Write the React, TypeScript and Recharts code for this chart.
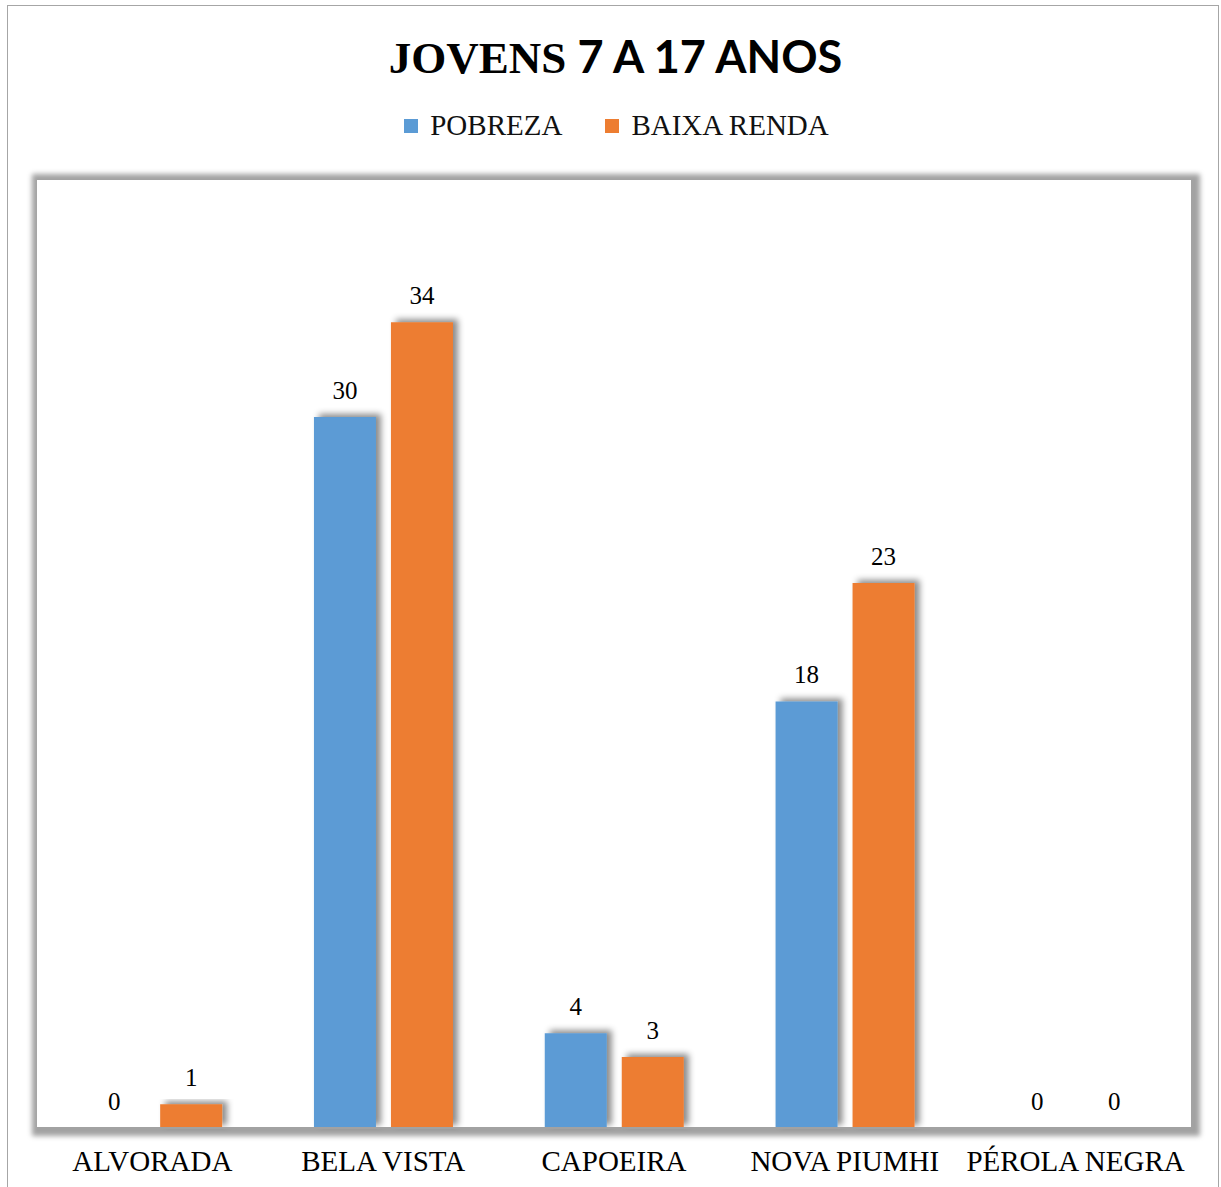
import { Bar, BarChart, LabelList, Rectangle, XAxis, YAxis } from "recharts";

const categories = ["ALVORADA", "BELA VISTA", "CAPOEIRA", "NOVA PIUMHI", "PÉROLA NEGRA"];
const pobreza = [0, 30, 4, 18, 0];
const baixaRenda = [1, 34, 3, 23, 0];

const series = [
  { key: "pobreza", name: "POBREZA", color: "#5B9BD5" },
  { key: "baixaRenda", name: "BAIXA RENDA", color: "#ED7D31" },
];

const data = categories.map((name, i) => ({
  name,
  pobreza: pobreza[i],
  baixaRenda: baixaRenda[i],
}));

const W = 1221;
const H = 1187;
const serif = '"Liberation Serif", "Times New Roman", serif';

// draws value above the bar, zero values included
function ValueLabel(props: any) {
  const { x, y, width, height, value } = props;
  if (value == null) return null;
  const top = Math.min(Number(y), Number(y) + Number(height || 0));
  const base = value === 0 ? top + Math.abs(Number(height || 0)) : top;
  return (
    <text
      x={Number(x) + Number(width) / 2}
      y={base - 18}
      textAnchor="middle"
      fill="#000"
      fontSize={25}
      fontFamily={serif}
    >
      {value}
    </text>
  );
}

// zero bars get a 1px min size so labels render, but draw nothing
function BarShape(props: any) {
  if (props.value === 0 || (Array.isArray(props.value) && props.value[1] === 0)) return <g />;
  return <Rectangle {...props} />;
}

export default function App() {
  return (
    <div
      style={{
        position: "absolute",
        left: 0,
        top: 0,
        width: W,
        height: H,
        background: "#fff",
        fontFamily: serif,
      }}
    >
      {/* outer chart border */}
      <div
        style={{
          position: "absolute",
          left: 7,
          top: 5,
          width: 1212,
          height: 1185,
          border: "1.5px solid #a6a6a6",
          boxSizing: "border-box",
        }}
      />
      {/* plot area frame with shadow */}
      <div
        style={{
          position: "absolute",
          left: 37,
          top: 180,
          width: 1154,
          height: 948,
          boxShadow: "2px 1px 5px 7px #a2a2a2",
          background: "#fff",
        }}
      />
      <div
        style={{
          position: "absolute",
          top: 28,
          left: 0,
          width: W,
          paddingLeft: 10,
          boxSizing: "border-box",
          textAlign: "center",
          fontSize: 45,
          fontWeight: 700,
          color: "#000",
          lineHeight: "56px",
        }}
      >
        <span style={{ fontFamily: serif }}>JOVENS </span>
        <span style={{ fontFamily: "Lato, sans-serif" }}>7 A 17 ANOS</span>
      </div>
      <div
        style={{
          position: "absolute",
          top: 109,
          left: 0,
          width: W,
          paddingLeft: 12,
          boxSizing: "border-box",
          display: "flex",
          justifyContent: "center",
          gap: 43,
          fontSize: 29,
          color: "#111",
        }}
      >
        {series.map((s) => (
          <div key={s.key} style={{ display: "flex", alignItems: "center", gap: 12 }}>
            <span style={{ width: 14, height: 14, background: s.color, display: "inline-block" }} />
            <span>{s.name}</span>
          </div>
        ))}
      </div>
      <div style={{ position: "absolute", left: 0, top: 0 }}>
        <BarChart
          width={W}
          height={H}
          data={data}
          margin={{ top: 180, right: 30, bottom: 0, left: 37 }}
          barCategoryGap="20%"
          barGap={15}
        >
          <defs>
            <filter id="barShadow" x="-20%" y="-20%" width="150%" height="150%">
              <feDropShadow dx={5} dy={-3} stdDeviation={3} floodColor="#000" floodOpacity={0.45} />
            </filter>
          </defs>
          <XAxis
            dataKey="name"
            height={59}
            tickLine={false}
            axisLine={{ stroke: "#a2a2a2", strokeWidth: 2 }}
            tickMargin={16}
            interval={0}
            tick={{ fill: "#000", fontSize: 29, fontFamily: serif }}
          />
          <YAxis hide domain={[0, 40]} />
          {series.map((s) => (
            <Bar
              key={s.key}
              dataKey={s.key}
              name={s.name}
              fill={s.color}
              minPointSize={1}
              shape={<BarShape />}
              isAnimationActive={false}
              style={{ filter: "url(#barShadow)" }}
            >
              <LabelList dataKey={s.key} content={<ValueLabel />} />
            </Bar>
          ))}
        </BarChart>
      </div>
    </div>
  );
}
